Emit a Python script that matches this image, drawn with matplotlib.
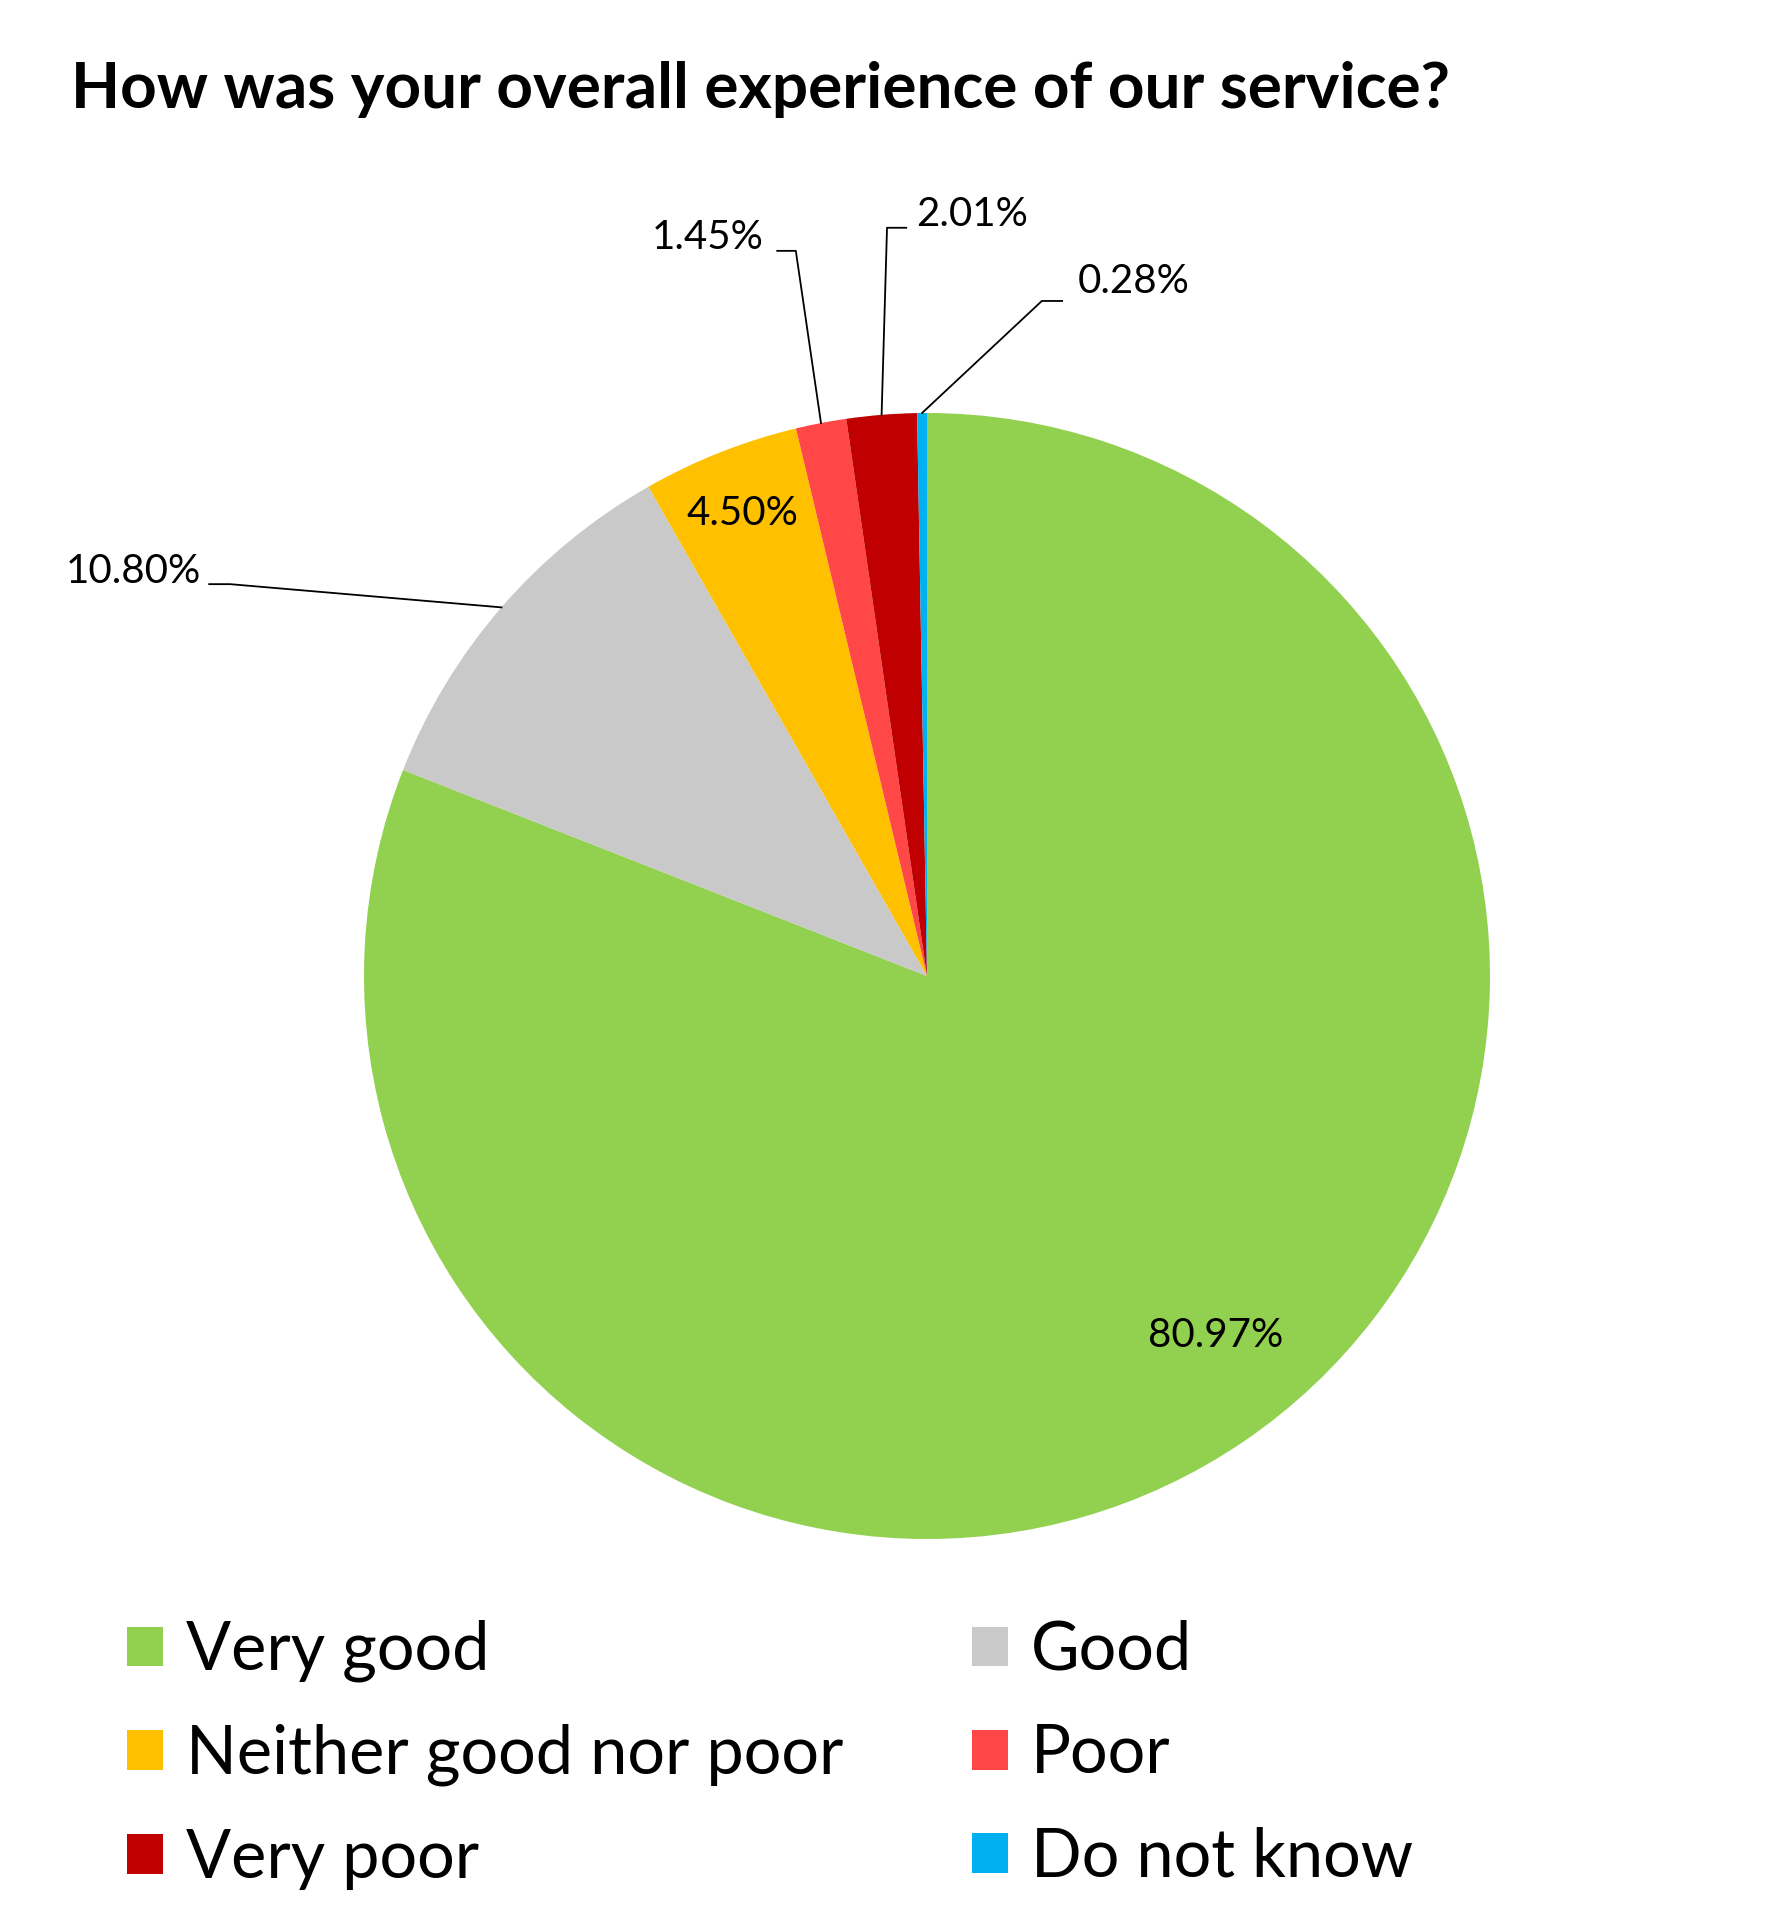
import matplotlib
matplotlib.use('Agg')
import matplotlib.pyplot as plt
import numpy as np

plt.rcParams['font.family'] = ['Lato', 'DejaVu Sans']

# data
categories = ['Very good', 'Good', 'Neither good nor poor', 'Poor', 'Very poor', 'Do not know']
values = [80.97, 10.80, 4.50, 1.45, 2.01, 0.28]
colors = ['#92D050', '#C9C9C9', '#FFC000', '#FF4747', '#C00000', '#00B0F0']
title = 'How was your overall experience of our service?'

W, H = 1777, 1930
fig = plt.figure(figsize=(W / 100, H / 100), dpi=100)

# pie axes: centre (927, 976) px, radius 563 px
cx, cy, rad = 927, 976, 563
ax = fig.add_axes([(cx - rad) / W, (H - cy - rad) / H, 2 * rad / W, 2 * rad / H])
wedges, _ = ax.pie(values, colors=colors, startangle=90, counterclock=False,
                   radius=1, wedgeprops=dict(linewidth=0))
ax.set_xlim(-1, 1)
ax.set_ylim(-1, 1)

# labels inside the slice (data coords)
inside = {0: (0.513, -0.638), 2: (-0.327, 0.821)}
# labels outside: text x, text y, ha, line start x, elbow x, line y
outside = {
    1: (-1.29, 0.718, 'right', -1.275, -1.238, 0.696),
    3: (-0.29, 1.311, 'right', -0.266, -0.233, 1.288),
    4: (-0.02, 1.352, 'left', -0.037, -0.071, 1.329),
    5: (0.268, 1.233, 'left', 0.240, 0.204, 1.199),
}

for i, w in enumerate(wedges):
    ang = np.deg2rad((w.theta1 + w.theta2) / 2)
    ex, ey = np.cos(ang), np.sin(ang)
    txt = f'{values[i]:.2f}%'
    if i in inside:
        ax.text(*inside[i], txt, ha='center', va='center', fontsize=29)
    else:
        tx, ty, ha, lx, kx, ly = outside[i]
        ax.text(tx, ty, txt, ha=ha, va='center', fontsize=29, clip_on=False)
        ax.plot([lx, kx, ex], [ly, ly, ey], color='black', lw=1.3, clip_on=False)

fig.text(71 / W, 1 - 108 / H, title, fontsize=46, fontweight='bold',
         ha='left', va='baseline')

# legend, two columns
order = [[0, 2, 4], [1, 3, 5]]
col_x = [127, 972]
for col, xpos in zip(order, col_x):
    leg = fig.legend([wedges[k] for k in col], [categories[k] for k in col],
                     loc='upper left', bbox_to_anchor=(xpos / W, 1 - 1620 / H),
                     frameon=False, fontsize=48, borderpad=0, borderaxespad=0,
                     handlelength=0.54, handleheight=0.54, handletextpad=0.34,
                     labelspacing=0.62)

fig.savefig('out.png', dpi=100)
